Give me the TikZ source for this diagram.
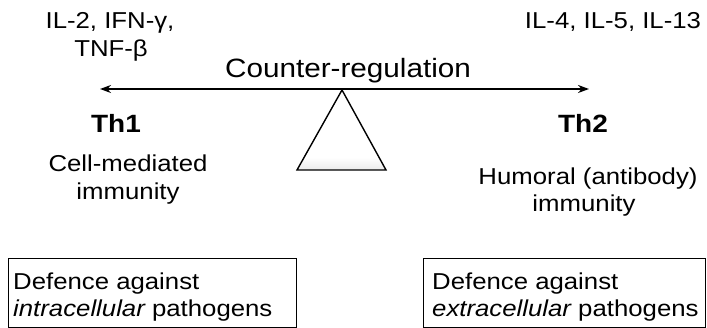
\documentclass[tikz,border=0pt]{standalone}
\usepackage{fontspec}
\setmainfont[FakeStretch=1.12]{Liberation Sans}
\usetikzlibrary{arrows.meta}
\pgfdeclareverticalshading{fulcrumshade}{100bp}{color(0bp)=(gray!16); color(25bp)=(gray!16); color(33bp)=(white); color(100bp)=(white)}
\tikzset{
  txt/.style={inner sep=0pt, anchor=base, font=\fontsize{23}{27}\selectfont},
  thlabel/.style={inner sep=0pt, anchor=base, font=\fontsize{25}{30}\selectfont\bfseries},
  ltxt/.style={inner sep=0pt, anchor=base west, font=\fontsize{23}{27}\selectfont},
  defbox/.style={draw, line width=1.4pt, inner sep=0pt, anchor=north west},
  balance/.style={line width=2.4pt, {Stealth[length=11pt,width=8pt]}-{Stealth[length=11pt,width=8pt]}},
  fulcrum/.style={draw, line width=1.4pt, line join=miter, shading=fulcrumshade}
}
\begin{document}
\begin{tikzpicture}[x=1pt,y=-1pt]
\useasboundingbox (0,0) rectangle (707,328);
% cytokines
\node[txt] (cytA1) at (110,29) {IL-2, IFN-γ,};
\node[txt] (cytA2) at (111,57) {TNF-β};
\node[txt] (cytB) at (613,29) {IL-4, IL-5, IL-13};
% balance beam
\node[txt, font=\fontsize{26.5}{30}\selectfont] (counter) at (348,78) {Counter-regulation};
\coordinate (beamL) at (100,89);
\coordinate (beamR) at (589,89);
\draw[balance] (beamL) -- (beamR);
% fulcrum
\coordinate (apex) at (342,90);
\coordinate (baseL) at (297,170);
\coordinate (baseR) at (386,170);
\path[fulcrum] (apex) -- (baseR) -- (baseL) -- cycle;
% Th1
\node[thlabel] (th1) at (116,133) {Th1};
\node[txt] (th1a) at (128,172) {Cell-mediated};
\node[txt] (th1b) at (128,200) {immunity};
% Th2
\node[thlabel] (th2) at (583,133) {Th2};
\node[txt] (th2a) at (588,185) {Humoral (antibody)};
\node[txt] (th2b) at (584,212) {immunity};
% boxes
\node[defbox, minimum width=288pt, minimum height=69pt] (boxL) at (8,258) {};
\node[ltxt] (boxLa) at (13,290) {Defence against};
\node[ltxt] (boxLb) at (13,317) {\itshape intracellular\upshape{} pathogens};
\node[defbox, minimum width=282pt, minimum height=69pt] (boxR) at (423,258) {};
\node[ltxt] (boxRa) at (432,290) {Defence against};
\node[ltxt] (boxRb) at (432,317) {\itshape extracellular\upshape{} pathogens};
\end{tikzpicture}
\end{document}
